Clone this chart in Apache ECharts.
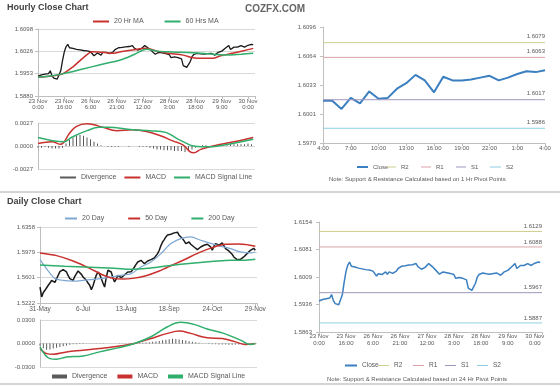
<!DOCTYPE html>
<html><head><meta charset="utf-8">
<script src="https://cdn.jsdelivr.net/npm/echarts@6/dist/echarts.min.js"></script>
<style>html,body{margin:0;padding:0;background:#fff}#c{width:560px;height:386px}</style>
</head><body><div id="c"></div><script>
// ---------- DATA ----------
const hourlyTicks = ['23 Nov\n0:00','23 Nov\n16:00','26 Nov\n6:00','26 Nov\n21:00','27 Nov\n12:00','28 Nov\n3:00','28 Nov\n18:00','29 Nov\n9:00','30 Nov\n0:00'];
const hourlyTickStep = 15;
const hourlyClose = [1.5945,1.5948,1.5949,1.5950,1.5951,1.5950,1.5953,1.5962,1.5946,1.5938,
 1.5933,1.5935,1.5939,1.5962,1.5995,1.6023,1.6040,1.6048,1.6037,1.6038,
 1.6035,1.6036,1.6032,1.6033,1.6030,1.6031,1.6028,1.6026,1.6027,1.6022,
 1.6024,1.6028,1.6011,1.6017,1.6020,1.6015,1.6013,1.6022,1.6016,1.6022,
 1.6019,1.6018,1.6013,1.6024,1.6031,1.6033,1.6037,1.6036,1.6038,1.6038,
 1.6040,1.6039,1.6041,1.6042,1.6044,1.6036,1.6031,1.6029,1.6028,1.6034,
 1.6039,1.6044,1.6048,1.6036,1.6031,1.6026,1.6022,1.6016,1.6019,1.6022,
 1.6021,1.6020,1.6021,1.6018,1.6013,1.6015,1.6005,1.6006,1.6007,1.6005,
 1.6005,1.6003,1.6001,1.5979,1.5974,1.5973,1.5975,1.5992,1.6008,1.6015,
 1.6020,1.6019,1.6018,1.6017,1.6017,1.6016,1.6017,1.6018,1.6018,1.6019,
 1.6020,1.6013,1.6017,1.6022,1.6024,1.6026,1.6030,1.6035,1.6040,1.6044,
 1.6031,1.6036,1.6039,1.6039,1.6039,1.6041,1.6044,1.6040,1.6039,1.6043,
 1.6045,1.6048,1.6048,1.6047];
const ma20Hr = [[0,1.5941],[8,1.5945],[14,1.5952],[20,1.5975],[26,1.6005],[31,1.6024],[37,1.6022],[43,1.6019],[48,1.6025],[54,1.6030],[62,1.6035],[68,1.6026],[74,1.6019],[83,1.6013],[88,1.6005],[91,1.6003],[100,1.6003],[104,1.6010],[111,1.6019],[118,1.6028],[123,1.6035]];
const ma60Hr = [[0,1.5941],[8,1.5946],[14,1.5952],[25,1.5967],[35,1.5981],[47,1.5997],[55,1.6015],[62,1.6032],[68,1.6026],[74,1.6024],[93,1.6019],[108,1.6013],[116,1.6016],[123,1.6019]];
const hourlyPriceLabels = ['1.5880','1.5953','1.6026','1.6098'];
const hourlyPriceRange = [1.5880, 1.6098];
const hourlyMacd = [[0,0.0003],[8,0.0005],[13,0.0002],[15,0.0005],[18,0.0015],[22,0.0023],[28,0.0026],[32,0.0025],[37,0.0022],[45,0.0018],[54,0.0019],[62,0.0017],[70,0.0012],[77,0.0006],[83,0.0001],[87,-0.0007],[89,-0.0008],[93,-0.0004],[100,0.0000],[112,0.0005],[123,0.0010]];
const hourlySignal = [[0,0.0010],[15,0.0005],[19,0.0010],[28,0.0018],[35,0.0022],[40,0.0022],[54,0.0019],[64,0.0018],[73,0.0016],[80,0.0008],[87,0.0001],[89,0.0000],[96,-0.0001],[103,0.0000],[123,0.0008]];
const hourlyDivStep = 2;
const hourlyDivergence = [-0.0002,-0.0002,-0.0001,-0.0002,-0.0003,-0.0003,-0.0003,-0.0002,
 0.0003,0.0007,0.0010,0.0012,0.0013,0.0012,0.0010,0.0008,0.0005,0.0003,0.0001,0.0000,
 -0.0001,-0.0001,-0.0001,-0.0001,0.0000,0.0000,-0.0001,0.0000,0.0000,-0.0001,
 -0.0001,-0.0001,-0.0002,-0.0003,-0.0004,-0.0004,-0.0005,-0.0005,-0.0005,-0.0006,
 -0.0006,-0.0006,-0.0007,-0.0006,-0.0004,-0.0002,0.0000,0.0001,0.0001,0.0000,
 0.0000,0.0001,0.0001,0.0001,0.0001,0.0002,0.0002,0.0002,0.0002,0.0002,
 0.0003,0.0002];
const hourlyMacdRange = 0.0027;

const hours24Ticks = ['4:00','7:00','10:00','13:00','16:00','19:00','22:00','1:00','4:00'];
const close24 = [1.6016,1.6016,1.6007,1.6019,1.6013,1.6026,1.6018,1.6019,1.6029,1.6035,1.6044,1.6038,1.6025,1.6042,1.6038,1.6038,1.6039,1.6041,1.6043,1.6038,1.6041,1.6045,1.6048,1.6047,1.6049];
const pivot1Hr = {R2:1.6079, R1:1.6063, S1:1.6017, S2:1.5986};
const price24Labels = ['1.5970','1.6001','1.6033','1.6064','1.6096'];
const price24Range = [1.5970, 1.6096];

const dailyTicks = ['31-May','6-Jul','13-Aug','18-Sep','24-Oct','29-Nov'];
const dailyTickStep = 26;
const dailyClose = [1.5461,1.5312,1.5380,1.5412,1.5450,1.5487,1.5520,1.5561,1.5545,1.5530,
 1.5585,1.5611,1.5690,1.5711,1.5720,1.5700,1.5686,1.5630,1.5587,1.5600,
 1.5561,1.5620,1.5661,1.5700,1.5685,1.5650,1.5611,1.5640,1.5561,1.5520,
 1.5487,1.5422,1.5480,1.5561,1.5640,1.5685,1.5650,1.5587,1.5520,1.5461,
 1.5600,1.5711,1.5700,1.5685,1.5600,1.5536,1.5580,1.5636,1.5620,1.5600,
 1.5611,1.5640,1.5660,1.5685,1.5700,1.5690,1.5721,1.5760,1.5800,1.5835,
 1.5820,1.5860,1.5840,1.5810,1.5830,1.5850,1.5840,1.5870,1.5880,1.5895,
 1.5910,1.5960,1.6010,1.6080,1.6134,1.6170,1.6209,1.6240,1.6259,1.6250,
 1.6234,1.6270,1.6259,1.6280,1.6234,1.6210,1.6185,1.6150,1.6110,1.6120,
 1.6134,1.6100,1.6080,1.6059,1.6040,1.6020,1.6040,1.6059,1.6070,1.6085,
 1.6095,1.6100,1.6110,1.6060,1.6010,1.6070,1.6110,1.6100,1.6085,1.6100,
 1.6120,1.6080,1.6035,1.6020,1.6000,1.5985,1.5950,1.5910,1.5886,1.5870,
 1.5860,1.5875,1.5890,1.5910,1.5935,1.5960,1.5985,1.6010,1.6035,1.6040,1.6010];
const ma20Day = [[0,1.5870],[5,1.5700],[9,1.5590],[14,1.5560],[20,1.5550],[26,1.5560],[32,1.5575],[38,1.5590],[45,1.5620],[50,1.5640],[55,1.5660],[61,1.5760],[67,1.5835],[73,1.5960],[79,1.6110],[85,1.6185],[91,1.6209],[97,1.6160],[107,1.6084],[115,1.6035],[121,1.5985],[127,1.5970],[130,1.5985]];
const ma50Day = [[0,1.5970],[10,1.5930],[20,1.5850],[30,1.5740],[38,1.5640],[44,1.5590],[50,1.5580],[56,1.5590],[64,1.5630],[72,1.5700],[80,1.5790],[88,1.5880],[96,1.5975],[104,1.6050],[112,1.6100],[120,1.6105],[126,1.6090],[130,1.6070]];
const ma200Day = [[0,1.5790],[15,1.5770],[30,1.5755],[45,1.5740],[55,1.5725],[65,1.5740],[75,1.5770],[85,1.5800],[95,1.5825],[105,1.5845],[115,1.5860],[122,1.5860],[130,1.5875]];
const dailyPriceLabels = ['1.5222','1.5601','1.5979','1.6358'];
const dailyPriceRange = [1.5222, 1.6358];
const dailyMacd = [[0,-0.0064],[4,-0.0129],[8,-0.0137],[16,-0.0107],[26,-0.0086],[36,-0.0064],[47,-0.0035],[57,0.0000],[67,0.0064],[77,0.0129],[84,0.0158],[91,0.0129],[101,0.0072],[110,0.0064],[118,0.0021],[124,-0.0013],[130,0.0000]];
const dailySignal = [[0,-0.0043],[6,-0.0193],[10,-0.0201],[16,-0.0172],[26,-0.0159],[36,-0.0107],[47,-0.0056],[57,0.0000],[67,0.0086],[77,0.0214],[85,0.0270],[93,0.0244],[101,0.0184],[111,0.0129],[121,0.0043],[127,-0.0013],[130,0.0000]];
const dailyDivStep = 2;
const dailyDivergence = [-0.0030,-0.0060,-0.0080,-0.0075,-0.0065,-0.0055,-0.0045,-0.0035,-0.0025,-0.0015,
 -0.0010,-0.0008,-0.0006,-0.0005,-0.0004,-0.0003,-0.0004,-0.0003,-0.0002,-0.0002,
 -0.0001,-0.0001,0.0001,0.0001,0.0002,0.0002,0.0003,0.0003,0.0004,0.0006,
 0.0008,0.0010,0.0013,0.0017,0.0022,0.0027,0.0033,0.0040,0.0048,0.0055,
 0.0060,0.0058,0.0052,0.0045,0.0038,0.0030,0.0022,0.0015,0.0008,0.0003,
 -0.0002,-0.0005,-0.0008,-0.0010,-0.0012,-0.0013,-0.0014,-0.0015,-0.0015,-0.0014,
 -0.0012,-0.0010,-0.0007,-0.0004,-0.0002,0.0000];
const dailyMacdRange = 0.03;

const pivot24Hr = {R2:1.6129, R1:1.6088, S1:1.5967, S2:1.5887};
const price24hLabels = ['1.5863','1.5936','1.6009','1.6081','1.6154'];
const price24hRange = [1.5863, 1.6154];

// ---------- STYLE ----------
const FONT = '"Liberation Sans", Arial, sans-serif';
const LBL = '#595959';
const GRIDC = '#d9d9d9';
const AXC = '#bfbfbf';
const C = {black:'#1a1a1a', red:'#c8312e', green:'#2fae6c', blue:'#3b7fc0', lblue:'#7ea8d3',
  div:'#5a5a5a', R2:'#cfcf8f', R1:'#dba2a8', S1:'#9f95bb', S2:'#8dcfe2'};
const pivotColors = {R2:C.R2, R1:C.R1, S1:C.S1, S2:C.S2};

const idx = arr => arr.map((v,i)=>[i,v]);
const stepIdx = (arr,s) => arr.map((v,i)=>[i*s,v]);
const pickLabel = (labels, step) => v => { const k = v/step, r = Math.round(k); return (Math.abs(k-r)<1e-6 && labels[r]!==undefined) ? labels[r] : ''; };
const ts = (size) => ({fontSize:size, color:LBL, fontFamily:FONT, fontWeight:'normal'});

function xVal(grid, max, interval, labels, opts) {
  return Object.assign({
    type:'value', gridIndex:grid, min:0, max:max, interval:interval,
    axisLine:{show:true, lineStyle:{color:AXC}}, axisTick:{show:true, length:3, lineStyle:{color:AXC}},
    splitLine:{show:false},
    axisLabel: labels ? Object.assign({formatter:pickLabel(labels, interval), margin:2, showMaxLabel:true}, ts(6), {lineHeight:6.5}) : {show:false}
  }, opts||{});
}
function yHidden(grid, range) {
  return {type:'value', gridIndex:grid, min:range[0], max:range[1], show:false, scale:true, splitLine:{show:false}};
}
function yAux(grid, labels, split, margin) {
  return {type:'value', gridIndex:grid, min:0, max:labels.length-1, interval:1, position:'left',
    axisLine:{show:true, lineStyle:{color:AXC}}, axisTick:{show:true, length:3, lineStyle:{color:AXC}},
    splitLine:{show:split, lineStyle:{color:GRIDC}},
    axisLabel:Object.assign({formatter:v=>labels[Math.round(v)]||'', margin:margin}, ts(6))};
}
function yMacd(grid, r) {
  return {type:'value', gridIndex:grid, min:-r, max:r, interval:r, position:'left',
    axisLine:{show:true, lineStyle:{color:AXC}}, axisTick:{show:false},
    splitLine:{show:true, lineStyle:{color:GRIDC}},
    axisLabel:Object.assign({formatter:v=>v.toFixed(4), margin:5}, ts(6))};
}
function line(name, x, y, data, color, width, smooth) {
  return {type:'line', name:name, xAxisIndex:x, yAxisIndex:y, data:data, symbol:'none', smooth:smooth||false,
    itemStyle:{color:color}, lineStyle:{color:color, width:width}, silent:true, animation:false};
}
function pivotSeries(name, x, y, value, maxX, dist) {
  return {type:'line', name:name, xAxisIndex:x, yAxisIndex:y, symbol:'circle', symbolSize:0.01, showSymbol:true,
    silent:true, animation:false,
    itemStyle:{color:pivotColors[name]}, lineStyle:{color:pivotColors[name], width:1},
    label:{show:false},
    data:[[0,value],{value:[maxX,value], label:{show:true, position:'top', distance:dist, align:'right',
      formatter:value.toFixed(4), fontSize:6, color:LBL, fontFamily:FONT}}]};
}
function bars(name, x, y, data) {
  return {type:'bar', name:name, xAxisIndex:x, yAxisIndex:y, data:data, barWidth:1,
    itemStyle:{color:C.div}, silent:true, animation:false};
}
const lineIcon = n => ({name:n, icon:'rect'});
function legend(left, top, items, gap, fs, iw, ih) {
  return {left:left, top:top, padding:0, itemGap:gap, itemWidth:iw||16, itemHeight:ih||2, selectedMode:false,
    textStyle:ts(fs||7), data:items};
}

const hMax = 124, dMax = 131;
const option = {
  animation:false,
  backgroundColor:'#fff',
  textStyle:{fontFamily:FONT},
  title:[
    {text:'Hourly Close Chart', left:7, top:3, padding:0, textStyle:{fontSize:9, fontWeight:'bold', color:'#404040', fontFamily:FONT}},
    {text:'COZFX.COM', left:245, top:4, padding:0, textStyle:{fontSize:10, fontWeight:'bold', color:'#666', fontFamily:FONT}},
    {text:'Daily Close Chart', left:7, top:197, padding:0, textStyle:{fontSize:9, fontWeight:'bold', color:'#404040', fontFamily:FONT}},
    {text:'Note: Support & Resistance Calculated based on 1 Hr Pivot Points', left:329, top:176, padding:0, textStyle:ts(6)},
    {text:'Note: Support & Resistance Calculated based on 24 Hr Pivot Points', left:327, top:376, padding:0, textStyle:ts(6)}
  ],
  graphic:[
    {type:'rect', left:0, top:191, shape:{width:560, height:2}, style:{fill:'#d4d4d4'}, silent:true},
    {type:'rect', left:0, top:383, shape:{width:560, height:2}, style:{fill:'#d4d4d4'}, silent:true}
  ],
  legend:[
    legend(93, 18, [lineIcon('20 Hr MA'), lineIcon('60 Hrs MA')], 21),
    legend(60, 174, [{name:'Divergence', icon:'rect', itemStyle:{color:C.div}}, lineIcon('MACD'), lineIcon('MACD Signal Line')], 8),
    legend(357, 164, [{name:'Close', icon:'rect'}], 0, 6, 11, 2),
    legend(387, 164, [lineIcon('R2')], 0, 6, 9, 1),
    legend(421, 164, [lineIcon('R1')], 0, 6, 10, 1),
    legend(456, 164, [lineIcon('S1')], 0, 6, 10, 1),
    legend(490, 164, [lineIcon('S2')], 0, 6, 11, 1),
    legend(65, 215, [lineIcon('20 Day'), lineIcon('50 Day'), lineIcon('200 Day')], 24, 7, 12),
    legend(52, 373, [{name:'Divergence', icon:'rect', itemStyle:{color:C.div}}, lineIcon('MACD'), lineIcon('MACD Signal Line')], 10, 7, 15, 4),
    legend(345, 362, [{name:'Close', icon:'rect'}], 0, 6.5, 12, 2),
    legend(378, 362, [lineIcon('R2')], 0, 6.5, 11, 1),
    legend(413, 362, [lineIcon('R1')], 0, 6.5, 11, 1),
    legend(445, 362, [lineIcon('S1')], 0, 6.5, 11, 1),
    legend(477, 362, [lineIcon('S2')], 0, 6.5, 11, 1)
  ],
  grid:[
    {left:38, top:29, width:217, height:67},
    {left:38, top:123, width:217, height:46},
    {left:323, top:27, width:222, height:116},
    {left:40, top:227, width:217, height:76},
    {left:40, top:320, width:217, height:47},
    {left:319, top:222, width:223, height:110}
  ],
  xAxis:[
    xVal(0, hMax, hourlyTickStep, hourlyTicks),
    xVal(1, hMax, hourlyTickStep, null, {axisLine:{show:false}, axisTick:{show:false}}),
    xVal(2, hours24Ticks.length*3-3, 3, hours24Ticks, {axisLabel:Object.assign({formatter:pickLabel(hours24Ticks,3), margin:2}, ts(6))}),
    xVal(3, dMax, dailyTickStep, dailyTicks, {axisLabel:Object.assign({formatter:pickLabel(dailyTicks,dailyTickStep), margin:3}, ts(6.5))}),
    xVal(4, dMax, dailyTickStep, null, {axisLine:{show:false}, axisTick:{show:false}}),
    xVal(5, hMax, hourlyTickStep, hourlyTicks, {axisLabel:Object.assign({formatter:pickLabel(hourlyTicks,hourlyTickStep), margin:1, lineHeight:7}, ts(6))})
  ],
  yAxis:[
    yHidden(0, hourlyPriceRange),           //0
    yAux(0, hourlyPriceLabels, true, 5),     //1
    yMacd(1, hourlyMacdRange),               //2
    yHidden(2, price24Range),                //3
    yAux(2, price24Labels, false, 7),        //4
    yHidden(3, dailyPriceRange),             //5
    yAux(3, dailyPriceLabels, true, 5),      //6
    yMacd(4, dailyMacdRange),                //7
    yHidden(5, price24hRange),               //8
    yAux(5, price24hLabels, false, 7)        //9
  ],
  series:[
    line('Hourly Close', 0, 0, idx(hourlyClose), C.black, 1.3),
    line('20 Hr MA', 0, 0, ma20Hr, C.red, 1.5, 0.3),
    line('60 Hrs MA', 0, 0, ma60Hr, C.green, 1.5, 0.3),
    bars('Divergence', 1, 2, stepIdx(hourlyDivergence, hourlyDivStep)),
    line('MACD', 1, 2, hourlyMacd, C.red, 1.5, 0.4),
    line('MACD Signal Line', 1, 2, hourlySignal, C.green, 1.5, 0.4),
    line('Close', 2, 3, idx(close24), C.blue, 2),
    pivotSeries('R2', 2, 3, pivot1Hr.R2, 24, 3),
    pivotSeries('R1', 2, 3, pivot1Hr.R1, 24, 3),
    pivotSeries('S1', 2, 3, pivot1Hr.S1, 24, 3),
    pivotSeries('S2', 2, 3, pivot1Hr.S2, 24, 3),
    line('Daily Close', 3, 5, idx(dailyClose), C.black, 1.5),
    line('20 Day', 3, 5, ma20Day, C.lblue, 1.2, 0.3),
    line('50 Day', 3, 5, ma50Day, C.red, 1.5, 0.3),
    line('200 Day', 3, 5, ma200Day, C.green, 1.5, 0.3),
    bars('Divergence', 4, 7, stepIdx(dailyDivergence, dailyDivStep)),
    line('MACD', 4, 7, dailyMacd, C.red, 1.5, 0.4),
    line('MACD Signal Line', 4, 7, dailySignal, C.green, 1.5, 0.4),
    line('Close', 5, 8, idx(hourlyClose), C.blue, 1.5),
    pivotSeries('R2', 5, 8, pivot24Hr.R2, hMax, 2),
    pivotSeries('R1', 5, 8, pivot24Hr.R1, hMax, 2),
    pivotSeries('S1', 5, 8, pivot24Hr.S1, hMax, 2),
    pivotSeries('S2', 5, 8, pivot24Hr.S2, hMax, 2)
  ]
};
const chart = echarts.init(document.getElementById('c'), null, {renderer:'canvas', width:560, height:386});
chart.setOption(option);
</script></body></html>
